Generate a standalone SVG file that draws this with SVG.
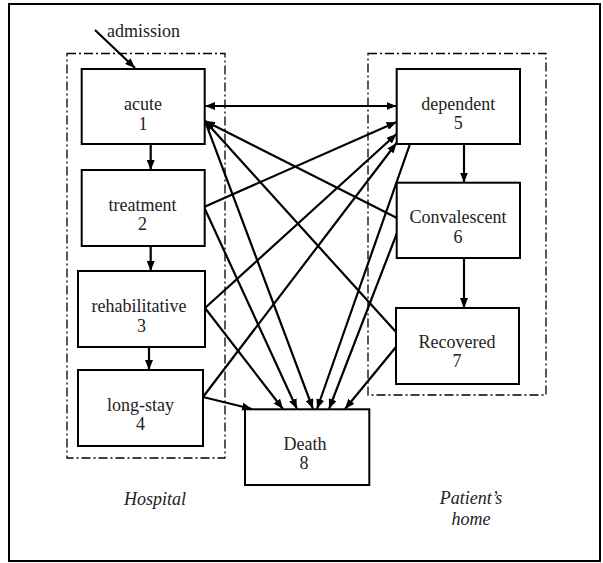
<svg xmlns="http://www.w3.org/2000/svg" width="603" height="563" viewBox="0 0 603 563">
<defs>
<marker id="ah" markerUnits="userSpaceOnUse" markerWidth="10" markerHeight="8" refX="10" refY="4" orient="auto-start-reverse">
<path d="M0,0 L10,4 L0,8 z" fill="#000"/>
</marker>
</defs>
<style>
.node rect{fill:#fff;stroke:#000;stroke-width:2}
.grp{fill:none;stroke:#000;stroke-width:1.3;stroke-dasharray:9,3,2,3}
text{font-family:"Liberation Serif","Times New Roman",serif;font-size:18px;fill:#222;text-anchor:middle}
.it{font-style:italic}
#connectors line{stroke:#000;stroke-width:2.2;marker-end:url(#ah)}
</style>
<rect x="0" y="0" width="603" height="563" fill="#fff"/>
<rect x="9" y="4" width="591" height="557" fill="none" stroke="#000" stroke-width="2"/>
<rect class="grp" x="67" y="53.5" width="158" height="404.5"/>
<rect class="grp" x="368" y="53.5" width="178" height="341.5"/>
<text class="it" x="155" y="505">Hospital</text>
<text class="it" x="471" y="504">Patient’s</text>
<text class="it" x="471" y="525">home</text>
<text x="107" y="37" style="text-anchor:start">admission</text>
<g id="connectors">
<line x1="95" y1="30" x2="135" y2="68"/>
<line x1="150.7" y1="144" x2="150.7" y2="170"/>
<line x1="150.7" y1="246" x2="150.7" y2="271"/>
<line x1="149" y1="347" x2="149" y2="370"/>
<line x1="464" y1="144" x2="464" y2="182.5"/>
<line x1="464" y1="258" x2="464" y2="308"/>
<line x1="205" y1="106" x2="396.5" y2="106" style="marker-start:url(#ah)"/>
<line x1="397" y1="218" x2="205" y2="121"/>
<line x1="396" y1="332" x2="205" y2="121"/>
<line x1="205" y1="121" x2="313" y2="409"/>
<line x1="204" y1="207" x2="297" y2="409"/>
<line x1="205" y1="308" x2="283" y2="409"/>
<line x1="203" y1="397" x2="252" y2="409"/>
<line x1="410" y1="144" x2="317" y2="409"/>
<line x1="397" y1="233" x2="329" y2="409"/>
<line x1="396" y1="347" x2="345" y2="409"/>
<line x1="204" y1="207" x2="396.5" y2="122"/>
<line x1="205" y1="308" x2="396.5" y2="134"/>
<line x1="203" y1="397" x2="396.5" y2="143"/>
</g>
<g id="acute" class="node"><rect x="81.7" y="69" width="123" height="75"/><text x="143" y="110">acute</text><text x="143" y="129.5">1</text></g>
<g id="treatment" class="node"><rect x="81.7" y="170" width="123" height="76"/><text x="142.5" y="210.5">treatment</text><text x="142.5" y="230">2</text></g>
<g id="rehabilitative" class="node"><rect x="78" y="271" width="127" height="76"/><text x="139" y="311.5">rehabilitative</text><text x="141.5" y="331.5">3</text></g>
<g id="long-stay" class="node"><rect x="78" y="370" width="125" height="76"/><text x="140.5" y="410.5">long-stay</text><text x="140.5" y="430">4</text></g>
<g id="death" class="node"><rect x="245" y="409.3" width="124.3" height="75.7"/><text x="305" y="450">Death</text><text x="304" y="469">8</text></g>
<g id="dependent" class="node"><rect x="396.7" y="69" width="123.3" height="75"/><text x="458.3" y="109.5">dependent</text><text x="458.3" y="128.5">5</text></g>
<g id="convalescent" class="node"><rect x="396.7" y="182.7" width="123.3" height="75.3"/><text x="458" y="223.3">Convalescent</text><text x="458" y="242.7">6</text></g>
<g id="recovered" class="node"><rect x="396" y="308" width="123" height="76"/><text x="457" y="348.3">Recovered</text><text x="457" y="367.3">7</text></g>
</svg>
